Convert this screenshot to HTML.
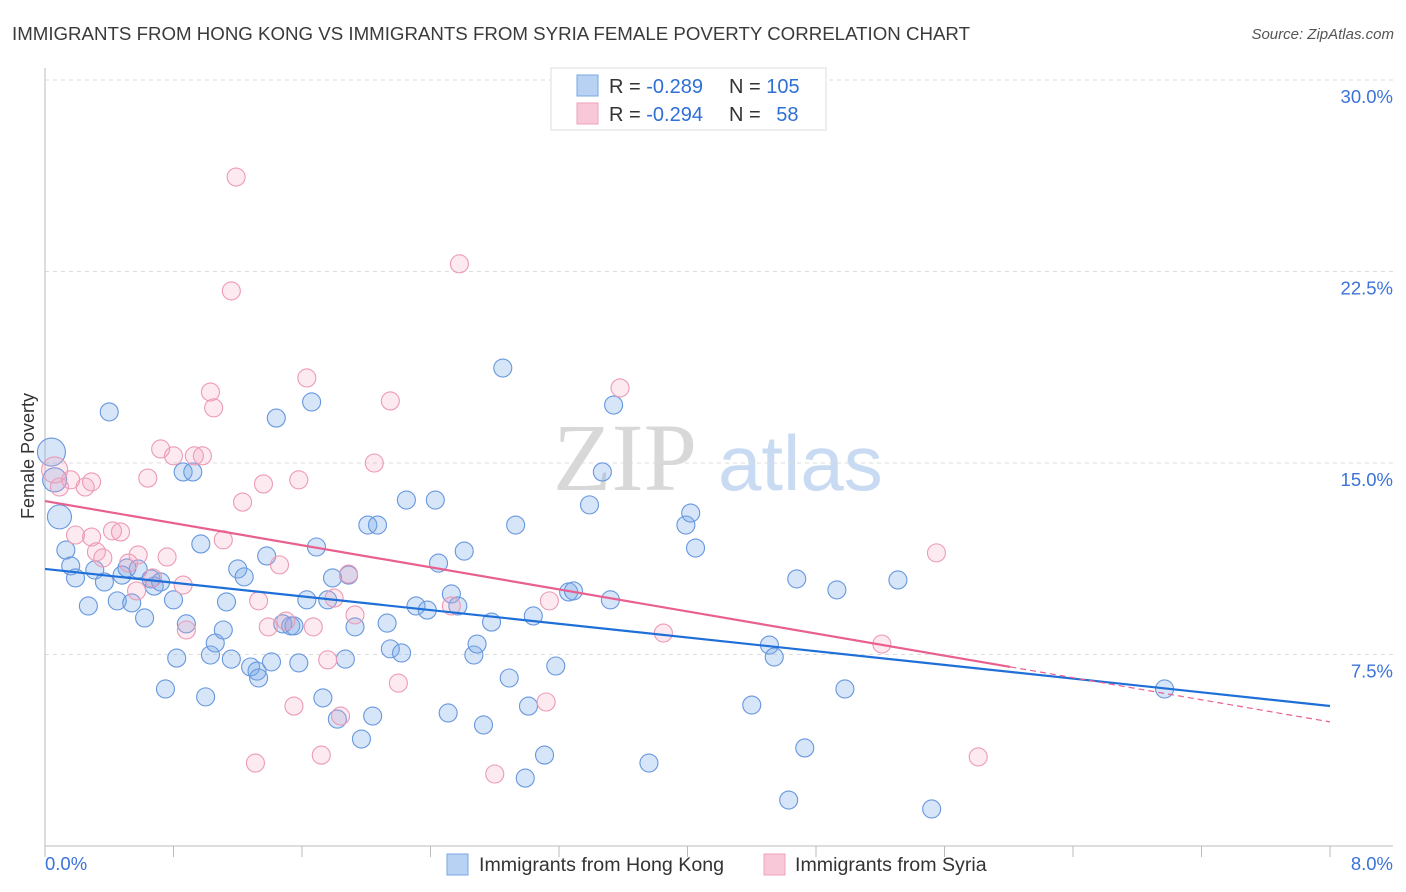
<!DOCTYPE html>
<html><head><meta charset="utf-8"><style>
html,body{margin:0;padding:0;background:#fff;width:1406px;height:892px;overflow:hidden;font-family:"Liberation Sans",sans-serif}
</style></head><body>
<svg id="chart" width="1406" height="892" xmlns="http://www.w3.org/2000/svg" font-family="Liberation Sans, sans-serif">
<text x="12" y="40" font-size="18.7" fill="#3a3a3a">IMMIGRANTS FROM HONG KONG VS IMMIGRANTS FROM SYRIA FEMALE POVERTY CORRELATION CHART</text>
<text x="1394" y="39" font-size="15" fill="#555" font-style="italic" text-anchor="end">Source: ZipAtlas.com</text>
<g>
<text x="553" y="490" font-size="96" font-family="Liberation Serif, serif" fill="#d8d8d8">ZIP</text>
<text x="718" y="490" font-size="78" fill="#c9dbf2">atlas</text>
</g>
<g id="grid"></g>
<g id="axes"></g>
<g id="pts"></g>
<g id="lines"></g>
<text transform="translate(34,456) rotate(-90)" font-size="18" fill="#333" text-anchor="middle">Female Poverty</text>
<g>
<rect x="551" y="68" width="275" height="62" fill="#fff" stroke="#ddd"/>
<rect x="577" y="75" width="21" height="21" fill="#b8d2f4" stroke="#7aa6e4"/>
<rect x="577" y="103" width="21" height="21" fill="#f9c8d8" stroke="#eda3bb"/>
<text x="609" y="93" font-size="20" fill="#333">R = <tspan fill="#2f6fd6">-0.289</tspan></text>
<text x="729" y="93" font-size="20" fill="#333">N = <tspan fill="#2f6fd6">105</tspan></text>
<text x="609" y="121" font-size="20" fill="#333">R = <tspan fill="#2f6fd6">-0.294</tspan></text>
<text x="729" y="121" font-size="20" fill="#333">N = <tspan fill="#2f6fd6" dx="10">58</tspan></text>
</g>
<g>
<rect x="447" y="854" width="21" height="21" fill="#b8d2f4" stroke="#7aa6e4"/>
<text x="479" y="871" font-size="19.6" fill="#333">Immigrants from Hong Kong</text>
<rect x="764" y="854" width="21" height="21" fill="#f9c8d8" stroke="#eda3bb"/>
<text x="795" y="871" font-size="19.6" fill="#333">Immigrants from Syria</text>
</g>
</svg>
<script>
const yTicks=[7.5,15,22.5,30];
const yTickLabels=["7.5%","15.0%","22.5%","30.0%"];
const xTickLabels=["0.0%","8.0%"];
const blueX=[0.04,0.09,0.06,0.13,0.16,0.19,0.27,0.31,0.37,0.40,0.45,0.48,0.51,0.54,0.58,0.62,0.66,0.68,0.72,0.75,0.80,0.82,0.86,0.88,0.92,0.97,1.00,1.03,1.06,1.11,1.13,1.16,1.20,1.24,1.28,1.32,1.33,1.38,1.41,1.44,1.48,1.53,1.55,1.58,1.63,1.66,1.69,1.73,1.76,1.79,1.82,1.87,1.89,1.93,1.97,2.01,2.04,2.07,2.13,2.15,2.22,2.25,2.31,2.38,2.43,2.45,2.51,2.53,2.57,2.61,2.67,2.69,2.73,2.78,2.85,2.89,2.93,2.99,3.01,3.04,3.11,3.18,3.26,3.29,3.39,3.47,3.52,3.54,3.76,3.99,4.02,4.05,4.40,4.51,4.54,4.63,4.68,4.73,4.93,4.98,5.31,5.52,6.97];
const blueY=[15.43,12.89,14.34,11.59,10.97,10.50,9.40,10.81,10.34,17.00,9.60,10.61,10.89,9.52,10.85,8.93,10.46,10.18,10.34,6.15,9.64,7.36,14.65,8.70,14.65,11.83,5.84,7.48,7.95,8.46,9.56,7.32,10.85,10.54,7.01,6.85,6.58,11.36,7.21,16.76,8.70,8.62,8.62,7.17,9.64,17.39,11.71,5.80,9.64,10.50,4.97,7.32,10.61,8.58,4.19,12.57,5.09,12.57,8.73,7.72,7.56,13.55,9.40,9.24,13.55,11.08,5.21,9.87,9.40,11.55,7.48,7.91,4.74,8.77,18.72,6.58,12.57,2.66,5.48,9.01,3.56,7.05,9.95,9.99,13.36,14.65,9.64,17.27,3.25,12.57,13.04,11.67,5.52,7.87,7.40,1.80,10.46,3.84,10.03,6.15,10.42,1.45,6.15];
const blueSize=[14,12,12];
const pinkX=[1.19,1.16,2.58,1.63,1.03,1.05,2.15,3.58,0.72,0.80,0.93,0.98,0.64,0.29,0.25,0.16,0.09,1.36,1.58,2.05,1.23,0.06,0.42,0.47,0.29,0.19,0.32,0.36,0.58,0.76,0.52,1.11,1.46,0.86,0.57,0.67,1.89,1.80,2.53,3.14,1.33,1.93,1.50,1.39,1.67,0.88,1.76,2.20,3.85,5.21,5.55,1.55,1.84,3.12,1.31,1.72,2.80,5.81];
const pinkY=[26.20,21.74,22.80,18.33,17.78,17.16,17.43,17.94,15.55,15.28,15.28,15.28,14.41,14.26,14.06,14.34,14.06,14.18,14.34,15.00,13.47,14.73,12.34,12.30,12.10,12.18,11.52,11.28,11.40,11.32,11.08,11.99,11.01,10.22,9.99,10.50,10.65,9.71,9.40,9.60,9.60,9.05,8.81,8.58,8.58,8.46,7.29,6.38,8.34,7.91,11.48,5.48,5.09,5.64,3.25,3.56,2.82,3.49];
const blueTrend=[10.85,-0.671];
const pinkTrend=[13.51,-1.081];
const pinkSolidEnd=6.01;

const NS="http://www.w3.org/2000/svg";
const X0=45,X1=1330,Y0=846,YPX=191.5/7.5;
const sx=v=>X0+v/8*(X1-X0);
const sy=v=>Y0-v*YPX;
function mk(tag,attrs,parent){const e=document.createElementNS(NS,tag);for(const k in attrs)e.setAttribute(k,attrs[k]);parent.appendChild(e);return e;}
const grid=document.getElementById('grid'),axes=document.getElementById('axes'),pts=document.getElementById('pts'),lines=document.getElementById('lines');
yTicks.forEach((t,i)=>{
 const l=mk('line',{x1:X0,x2:1393,y1:sy(t),y2:sy(t),stroke:'#dcdcdc','stroke-dasharray':'4,4'},grid);
 
 
 const tx=mk('text',{x:1393,y:sy(t)+23,'font-size':18.5,fill:'#3b73d9','text-anchor':'end'},axes);
 tx.textContent=yTickLabels[i];
 
 
});
const ya=mk('line',{x1:X0,x2:X0,y1:68,y2:Y0,stroke:'#bbb'},axes);


const xa=mk('line',{x1:X0,x2:1393,y1:Y0,y2:Y0,stroke:'#bbb'},axes);


for(let i=0;i<=10;i++){
 const t=mk('line',{x1:sx(i*0.8),x2:sx(i*0.8),y1:Y0,y2:Y0+11,stroke:'#bbb'},axes);
 
 
}
const xl0=mk('text',{x:45,y:870,'font-size':18.5,fill:'#3b73d9'},axes);xl0.textContent=xTickLabels[0];


const xl1=mk('text',{x:1393,y:870,'font-size':18.5,fill:'#3b73d9','text-anchor':'end'},axes);xl1.textContent=xTickLabels[1];


blueX.forEach((v,i)=>{
 const c=mk('circle',{cx:sx(v),cy:sy(blueY[i]),r:blueSize[i]||9,fill:'rgba(120,168,232,0.3)',stroke:'#6797de','stroke-width':1.1},pts);
 
 
});
pinkX.forEach((v,i)=>{
 const c=mk('circle',{cx:sx(v),cy:sy(pinkY[i]),r:i===21?13:9,fill:'rgba(245,160,188,0.22)',stroke:'#ec9ab5','stroke-width':1.1},pts);
 
 
});
const bl=mk('line',{x1:sx(0),y1:sy(blueTrend[0]),x2:sx(8),y2:sy(blueTrend[0]+blueTrend[1]*8),stroke:'#1f6fd8','stroke-width':2.2},lines);


const pl=mk('line',{x1:sx(0),y1:sy(pinkTrend[0]),x2:sx(pinkSolidEnd),y2:sy(pinkTrend[0]+pinkTrend[1]*pinkSolidEnd),stroke:'#e8608f','stroke-width':2.2},lines);


const pd=mk('line',{x1:sx(pinkSolidEnd),y1:sy(pinkTrend[0]+pinkTrend[1]*pinkSolidEnd),x2:sx(8),y2:sy(pinkTrend[0]+pinkTrend[1]*8),stroke:'#e8608f','stroke-width':1.2,'stroke-dasharray':'6,4'},lines);


</script>
</body></html>
